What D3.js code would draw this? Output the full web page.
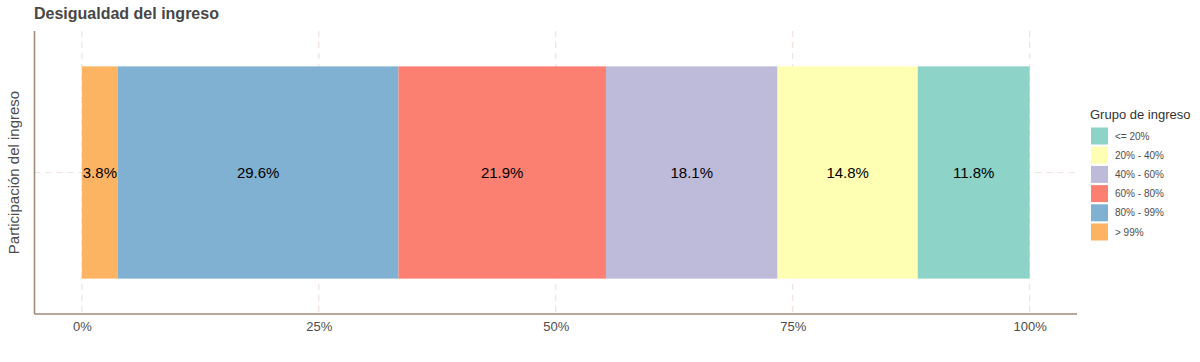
<!DOCTYPE html>
<html><head><meta charset="utf-8">
<script src="https://cdn.jsdelivr.net/npm/d3@7"></script>
<style>body{margin:0;background:#fff}svg{font-family:"Liberation Sans",Arial,sans-serif}</style>
</head><body><svg id="c" width="1200" height="362"></svg>
<script>
const groups = ["> 99%", "80% - 99%", "60% - 80%", "40% - 60%", "20% - 40%", "<= 20%"];
const shares = [3.8, 29.6, 21.9, 18.1, 14.8, 11.8];
const colors = ["#FDB462", "#80B1D3", "#FB8072", "#BEBADA", "#FFFFB3", "#8DD3C7"];
const legendOrder = ["<= 20%", "20% - 40%", "40% - 60%", "60% - 80%", "80% - 99%", "> 99%"];
const xTicks = [0, 0.25, 0.5, 0.75, 1];
const category = ["Participación"];

const svg = d3.select("#c");
const L = 34.5, R = 1077, T = 31, B = 314;
const x = d3.scaleLinear().domain([-0.05, 1.05]).range([L, R]);
const y = d3.scaleBand().domain(category).range([B, T]).paddingInner(0).paddingOuter(0);
// discrete expansion: 0.6 units each side, bar width 0.9
const unit = (B - T) / 1.2;
const yc = (B + T) / 2;
const color = d3.scaleOrdinal().domain(groups).range(colors);

// grid
const grid = svg.append("g");
xTicks.forEach(t => grid.append("line").attr("x1", x(t)).attr("x2", x(t)).attr("y1", T).attr("y2", B)
  .attr("stroke", "#f0e2dc").attr("stroke-width", 1.2).attr("stroke-dasharray", "6,5"));
grid.append("line").attr("x1", L).attr("x2", R).attr("y1", yc).attr("y2", yc)
  .attr("stroke", "#f0e2dc").attr("stroke-width", 1.2).attr("stroke-dasharray", "6,5");

// stacked data
let cum = 0;
const segs = groups.map((g, i) => { const s = {g, v: shares[i], x0: cum / 100, x1: (cum + shares[i]) / 100}; cum += shares[i]; return s; });

svg.append("g").selectAll("rect").data(segs).join("rect")
  .attr("x", d => x(d.x0)).attr("width", d => x(d.x1) - x(d.x0))
  .attr("y", yc - 0.45 * unit).attr("height", 0.9 * unit)
  .attr("fill", d => color(d.g));

svg.append("g").selectAll("text").data(segs).join("text")
  .attr("x", d => x((d.x0 + d.x1) / 2)).attr("y", yc).attr("dy", "0.35em")
  .attr("text-anchor", "middle").attr("font-size", 15).attr("fill", "#000")
  .text(d => d.v.toFixed(1) + "%");

// axes
const xa = svg.append("g").attr("transform", `translate(0,${B})`)
  .call(d3.axisBottom(x).tickValues(xTicks).tickFormat(d3.format(".0%")).tickSize(0).tickPadding(8));
xa.select(".domain").remove();
xa.selectAll("text").attr("font-size", 13).attr("fill", "#4d4d4d").attr("font-family", "Liberation Sans, Arial, sans-serif");
svg.append("line").attr("x1", L).attr("x2", R).attr("y1", B).attr("y2", B).attr("stroke", "#a08a78").attr("stroke-width", 1.6);
svg.append("line").attr("x1", L).attr("x2", L).attr("y1", T).attr("y2", B).attr("stroke", "#a08a78").attr("stroke-width", 1.6);

// titles
svg.append("text").attr("x", 34).attr("y", 19).attr("font-size", 16).attr("font-weight", "bold").attr("fill", "#474747").text("Desigualdad del ingreso");
svg.append("text").attr("transform", `translate(19,${yc}) rotate(-90)`).attr("text-anchor", "middle")
  .attr("font-size", 15).attr("fill", "#4d4d4d").text("Participación del ingreso");

// legend
const lg = svg.append("g").attr("transform", "translate(1090,0)");
lg.append("text").attr("x", 0).attr("y", 119).attr("font-size", 13).attr("fill", "#333").text("Grupo de ingreso");
legendOrder.forEach((g, i) => {
  const yy = 127.5 + i * 19.2;
  lg.append("rect").attr("x", 1).attr("y", yy).attr("width", 17).attr("height", 17).attr("fill", color(g));
  lg.append("text").attr("x", 25).attr("y", yy + 8.5).attr("dy", "0.35em").attr("font-size", 10).attr("fill", "#4d4d4d").text(g);
});
</script></body></html>
